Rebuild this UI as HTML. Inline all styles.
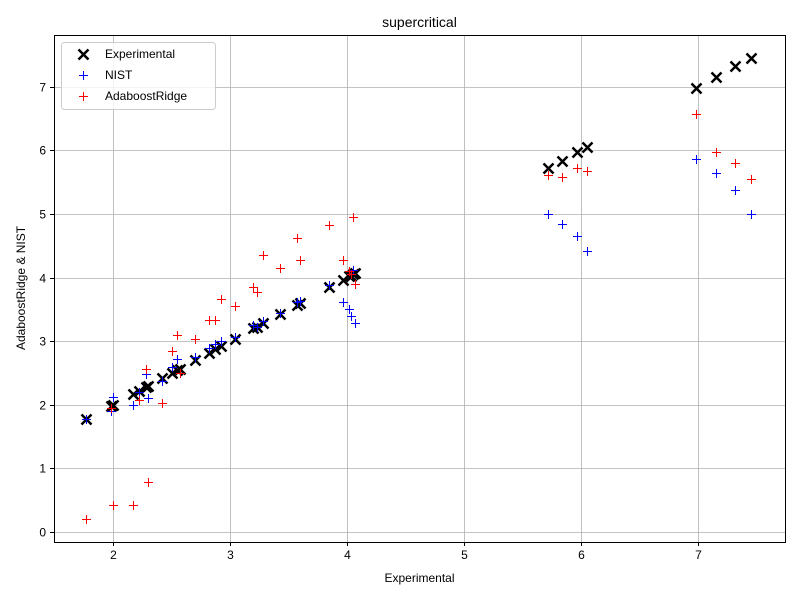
<!DOCTYPE html>
<html><head><meta charset="utf-8"><style>body{margin:0;background:#fff}svg{font-family:"Liberation Sans","DejaVu Sans",sans-serif}</style></head>
<body>
<svg id="c" width="800" height="600" xmlns="http://www.w3.org/2000/svg"></svg>
<script>
const expX=[1.77,1.98,2.0,2.17,2.22,2.28,2.3,2.42,2.5,2.55,2.57,2.7,2.82,2.87,2.92,3.04,3.2,3.23,3.28,3.43,3.57,3.6,3.85,3.97,4.02,4.03,4.05,4.07,5.72,5.84,5.97,6.05,6.98,7.15,7.32,7.45];
const expY=expX.slice();
const nist=[1.78,1.9,2.12,2.0,2.2,2.48,2.1,2.38,2.6,2.72,2.5,2.75,2.9,2.95,3.0,3.07,3.25,3.22,3.32,3.44,3.62,3.63,3.88,3.62,3.5,3.4,4.12,3.28,5.0,4.85,4.66,4.42,5.87,5.65,5.37,5.0];
const ridge=[0.21,1.95,0.43,0.43,2.08,2.57,0.79,2.03,2.85,3.1,2.5,3.03,3.33,3.33,3.67,3.55,3.86,3.78,4.35,4.15,4.63,4.27,4.82,4.27,4.1,4.05,4.95,3.9,5.62,5.58,5.73,5.67,6.57,5.97,5.8,5.55];
const xTicks=[2,3,4,5,6,7];
const yTicks=[0,1,2,3,4,5,6,7];
const L=54,R=785,T=35,B=542;
const X=v=>Math.round(113+(v-2)*117)+0.5, Y=v=>Math.round(532-v*63.6)+0.5;
const s=document.getElementById('c');const NS='http://www.w3.org/2000/svg';
function el(t,a,p){const e=document.createElementNS(NS,t);for(const k in a)e.setAttribute(k,a[k]);(p||s).appendChild(e);return e;}
const grid=el('g',{});


xTicks.forEach(v=>{el('line',{x1:X(v),x2:X(v),y1:T,y2:B,stroke:'#b0b0b0','stroke-width':0.8},grid);el('line',{x1:X(v),x2:X(v),y1:B,y2:B+4,stroke:'#000'},grid);
const t=el('text',{x:X(v),y:B+17,'text-anchor':'middle','font-size':12},grid);t.textContent=v;

});
yTicks.forEach(v=>{el('line',{x1:L,x2:R,y1:Y(v),y2:Y(v),stroke:'#b0b0b0','stroke-width':0.8},grid);el('line',{x1:L-4,x2:L,y1:Y(v),y2:Y(v),stroke:'#000'},grid);
const t=el('text',{x:L-8,y:Y(v)+4,'text-anchor':'end','font-size':12},grid);t.textContent=v;

});
function plus(x,y,c,g){const cx=Math.floor(x),cy=Math.floor(y);
el('rect',{x:cx-4,y:cy,width:9,height:1,fill:c},g);el('rect',{x:cx,y:cy-4,width:1,height:9,fill:c},g);}
function cross(x,y,g){el('path',{d:`M${x-5},${y-5}L${x+5},${y+5}M${x-5},${y+5}L${x+5},${y-5}`,stroke:'#000','stroke-width':2.5,fill:'none'},g);}
const ge=el('g',{});
const gn=el('g',{});
const gr=el('g',{});
expX.forEach((v,i)=>cross(X(v),Y(expY[i]),ge));
expX.forEach((v,i)=>plus(X(v),Y(nist[i]),'#0000ff',gn));
expX.forEach((v,i)=>plus(X(v),Y(ridge[i]),'#ff0000',gr));
el('rect',{x:L+0.5,y:T+0.5,width:R-L,height:B-T,fill:'none',stroke:'#000','stroke-width':1});
const ti=el('text',{x:419.5,y:27,'text-anchor':'middle','font-size':14});ti.textContent='supercritical';
const xl=el('text',{x:419.5,y:582,'text-anchor':'middle','font-size':12});xl.textContent='Experimental';
const yl=el('text',{x:0,y:0,'text-anchor':'middle','font-size':12,transform:'translate(25,288) rotate(-90)'});yl.textContent='AdaboostRidge & NIST';
const lg=el('g',{});
el('rect',{x:61.5,y:42.5,width:154,height:67,rx:3,fill:'#fff','fill-opacity':0.8,stroke:'#ccc'},lg);
cross(83.5,54.5,lg);plus(83.5,75.5,'#0000ff',lg);plus(83.5,96.5,'#ff0000',lg);
[['Experimental',58],['NIST',79],['AdaboostRidge',100]].forEach(([n,y])=>{const t=el('text',{x:105,y:y,'font-size':12},lg);t.textContent=n;});
</script>
</body></html>
